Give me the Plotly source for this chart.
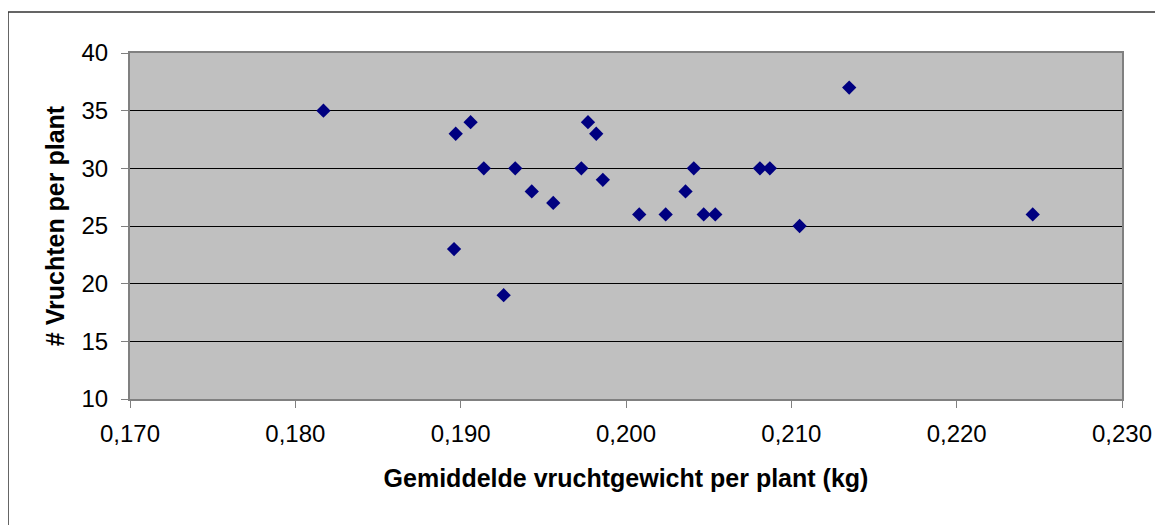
import plotly.graph_objects as go

# gemiddeld vruchtgewicht per plant (kg) en aantal vruchten per plant
gewicht = [0.1817, 0.1896, 0.1897, 0.1906, 0.1914, 0.1926, 0.1933, 0.1943,
           0.1956, 0.1973, 0.1977, 0.1982, 0.1986, 0.2008, 0.2024, 0.2036,
           0.2041, 0.2047, 0.2054, 0.2081, 0.2087, 0.2105, 0.2135, 0.2246]
vruchten = [35, 23, 33, 34, 30, 19, 30, 28,
            27, 30, 34, 33, 29, 26, 26, 28,
            30, 26, 26, 30, 30, 25, 37, 26]

x_ticks = [0.17, 0.18, 0.19, 0.20, 0.21, 0.22, 0.23]
y_ticks = [10, 15, 20, 25, 30, 35, 40]

FONT = "Liberation Sans, Arial, sans-serif"

fig = go.Figure()
fig.add_trace(go.Scatter(
    x=gewicht, y=vruchten, mode="markers",
    marker=dict(symbol="diamond", size=11, color="#000080", line=dict(width=0)),
    showlegend=False,
))

# de pagina heeft 8px marge, dus plotgebied komt op 130..1122 x 53..399
fig.update_layout(
    width=1155, height=517,
    margin=dict(l=122, r=41, t=45, b=126),
    paper_bgcolor="white", plot_bgcolor="#C0C0C0",
    separators=",.",
    font=dict(family=FONT, size=24, color="black"),
)

fig.update_xaxes(
    range=[0.17, 0.23], tickvals=x_ticks, tickformat=".3f",
    showgrid=False, zeroline=False,
    showline=True, linecolor="#808080", linewidth=2, mirror=True,
    ticks="outside", ticklen=7, tickcolor="#808080", tickwidth=1,
    tickfont=dict(size=24), ticklabelstandoff=5,
    title=dict(text="<b>Gemiddelde vruchtgewicht per plant (kg)</b>",
               font=dict(size=25), standoff=24),
)
fig.update_yaxes(
    range=[10, 40], tickvals=y_ticks,
    showgrid=True, gridcolor="black", gridwidth=1, zeroline=False,
    showline=True, linecolor="#808080", linewidth=2, mirror=True,
    ticks="outside", ticklen=7, tickcolor="#808080", tickwidth=1,
    tickfont=dict(size=24), ticklabelstandoff=8,
    title=dict(text="<b># Vruchten per plant</b>", font=dict(size=25), standoff=10),
)

# buitenrand van het diagram
fig.add_shape(type="rect", xref="paper", yref="paper",
              x0=(8 - 130) / 992, x1=(1200 - 130) / 992,
              y0=(399 - 560) / 346, y1=(399 - 12) / 346,
              line=dict(color="#333333", width=1.5), layer="below")

fig.write_html("out.html")
